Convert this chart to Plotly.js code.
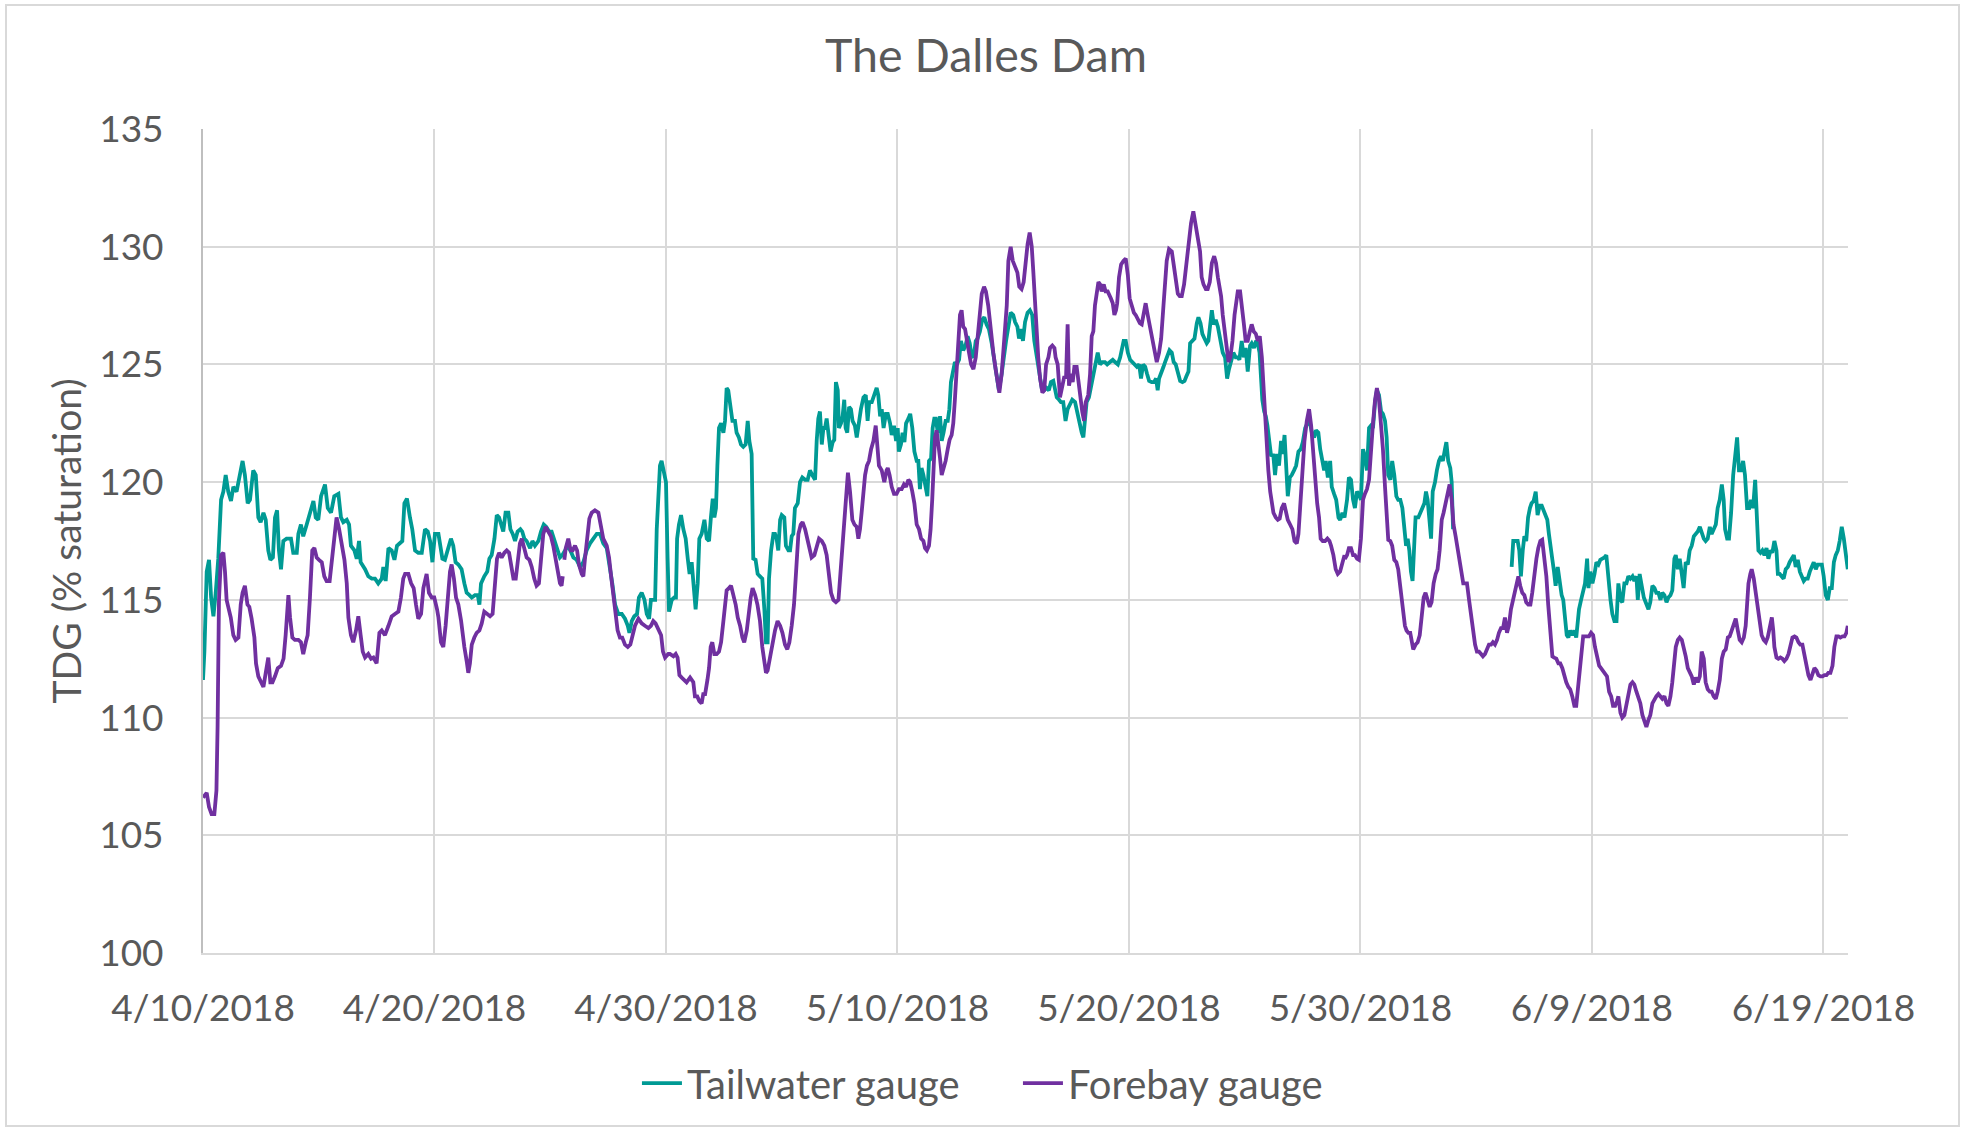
<!DOCTYPE html>
<html><head><meta charset="utf-8">
<script src="https://cdn.plot.ly/plotly-3.0.1.min.js"></script>
<style>
html,body{margin:0;padding:0;background:#fff}
#chart{width:1964px;height:1130px}
#frame{position:absolute;left:5px;top:4px;width:1951px;height:1119px;border:2px solid #d9d9d9;pointer-events:none}
</style>
</head><body><div id="chart"></div><div id="frame"></div>
<script>
const chartTitle = 'The Dalles Dam';
const yTitle = 'TDG (% saturation)';
const seriesNames = ['Tailwater gauge', 'Forebay gauge'];
const startDate = '2018-04-10';
const tickDays = [0, 10, 20, 30, 40, 50, 60, 70];
const tickLabels = ['4/10/2018', '4/20/2018', '4/30/2018', '5/10/2018', '5/20/2018', '5/30/2018', '6/9/2018', '6/19/2018'];
const axisEndDay = 71.06;
const yTicks = [100, 105, 110, 115, 120, 125, 130, 135];

// [days since 4/10/2018 00:00, TDG %]
const tailwater = [
[0.00,111.6],[0.06,112.8],[0.16,116.2],[0.26,116.7],[0.35,115.1],[0.45,114.3],[0.55,115.3],[0.66,116.75],[0.78,119.25],[0.88,119.6],[0.98,120.3],[1.09,119.6],[1.21,119.2],[1.31,119.8],[1.45,119.6],[1.60,120.3],[1.71,120.9],[1.81,120.3],[1.93,119.1],[2.03,119.25],[2.17,120.5],[2.28,120.3],[2.39,118.5],[2.49,118.3],[2.61,118.7],[2.71,118.4],[2.82,117.1],[2.91,116.7],[3.02,116.8],[3.11,118.5],[3.20,118.8],[3.28,117.1],[3.37,116.3],[3.47,117.5],[3.61,117.6],[3.80,117.6],[3.90,117.0],[4.05,117.0],[4.12,117.8],[4.23,118.2],[4.33,117.7],[4.48,118.2],[4.62,118.7],[4.77,119.2],[4.87,118.5],[4.98,118.4],[5.10,119.4],[5.27,119.9],[5.39,118.9],[5.53,118.7],[5.67,119.4],[5.85,119.5],[5.96,118.5],[6.06,118.3],[6.21,118.4],[6.31,118.2],[6.39,117.3],[6.54,117.1],[6.64,116.75],[6.74,117.5],[6.81,116.6],[6.88,116.5],[7.00,116.3],[7.14,116.0],[7.29,115.9],[7.43,115.9],[7.57,115.7],[7.72,115.9],[7.79,116.4],[7.89,115.8],[8.01,117.2],[8.15,117.1],[8.27,116.7],[8.38,117.3],[8.51,117.4],[8.61,117.5],[8.70,119.1],[8.81,119.3],[8.94,118.5],[9.04,118.0],[9.16,117.1],[9.30,117.0],[9.45,117.0],[9.59,118.0],[9.71,117.9],[9.81,117.5],[9.91,116.6],[10.02,117.8],[10.17,117.8],
[10.24,117.3],[10.34,116.75],[10.45,116.7],[10.57,117.1],[10.71,117.6],[10.81,117.3],[10.91,116.6],[11.03,116.5],[11.17,116.3],[11.29,115.7],[11.39,115.3],[11.51,115.2],[11.61,115.1],[11.75,115.2],[11.87,115.2],[11.94,114.8],[12.01,115.7],[12.15,116.0],[12.28,116.2],[12.37,116.75],[12.47,116.9],[12.59,117.6],[12.69,118.6],[12.79,118.5],[12.87,118.2],[12.97,117.9],[13.07,118.7],[13.19,118.7],[13.28,118.0],[13.38,117.8],[13.48,117.5],[13.59,117.9],[13.71,118.0],[13.79,117.9],[13.88,117.6],[13.98,117.5],[14.13,117.2],[14.23,117.5],[14.34,117.3],[14.49,117.5],[14.60,117.9],[14.72,118.2],[14.83,118.1],[14.95,117.9],[15.06,117.9],[15.21,117.5],[15.32,117.1],[15.42,116.8],[15.52,116.9],[15.64,117.1],[15.75,117.3],[15.87,117.1],[16.00,116.8],[16.14,116.7],[16.29,116.4],[16.43,116.6],[16.57,117.1],[16.72,117.4],[16.86,117.6],[17.01,117.8],[17.15,117.8],[17.29,117.4],[17.44,117.2],[17.58,116.4],[17.68,115.7],[17.80,114.8],[17.94,114.4],[18.09,114.4],[18.23,114.2],[18.35,113.9],[18.42,113.6],[18.52,114.1],[18.63,114.3],[18.75,114.4],[18.83,115.1],[18.95,115.3],[19.07,115.0],[19.17,114.4],[19.27,114.2],[19.35,115.0],[19.45,115.0],
[19.53,115.0],[19.60,118.0],[19.67,119.3],[19.74,120.7],[19.81,120.9],[19.91,120.5],[20.00,120.0],[20.07,116.75],[20.13,114.5],[20.25,115.0],[20.36,115.1],[20.43,115.1],[20.48,117.6],[20.56,118.2],[20.65,118.6],[20.75,118.0],[20.85,117.6],[20.94,116.75],[21.02,116.1],[21.11,116.6],[21.18,115.7],[21.28,114.6],[21.37,115.7],[21.44,117.6],[21.54,117.8],[21.66,118.4],[21.76,117.6],[21.86,117.5],[21.94,118.5],[22.02,119.3],[22.09,118.5],[22.16,118.9],[22.22,120.7],[22.29,122.3],[22.38,122.5],[22.48,122.1],[22.55,122.6],[22.62,124.0],[22.69,123.9],[22.77,123.2],[22.87,122.6],[22.98,122.6],[23.05,122.1],[23.15,121.9],[23.24,121.6],[23.34,121.5],[23.44,121.6],[23.53,122.6],[23.60,121.75],[23.70,121.2],[23.77,116.75],[23.87,116.7],[23.96,116.1],[24.06,116.0],[24.16,115.9],[24.25,114.6],[24.32,113.2],[24.39,113.2],[24.45,115.9],[24.54,117.1],[24.64,117.8],[24.71,117.8],[24.78,117.6],[24.85,117.1],[24.93,118.4],[25.00,118.6],[25.11,118.5],[25.18,117.3],[25.29,117.1],[25.36,117.1],[25.43,117.7],[25.50,117.8],[25.57,118.9],[25.69,119.1],[25.79,120.0],[25.89,120.2],[26.01,120.1],[26.12,120.1],[26.22,120.5],[26.32,120.3],[26.44,120.1],[26.51,121.75],[26.58,122.7],[26.65,123.0],[26.73,121.6],[26.80,122.3],[26.87,122.3],[26.94,122.7],[27.01,122.1],[27.11,121.3],[27.20,121.7],[27.27,121.8],[27.34,124.25],[27.42,123.9],[27.47,122.3],[27.56,122.5],[27.63,122.8],[27.70,123.5],[27.76,122.3],[27.83,122.1],[27.91,123.2],[27.99,123.1],[28.06,122.6],[28.16,122.4],[28.24,121.9],[28.34,122.6],[28.42,123.1],[28.53,123.6],[28.63,123.7],[28.71,122.6],[28.78,123.4],[28.89,123.4],[29.00,123.7],[29.10,124.0],[29.17,123.7],[29.25,122.8],[29.32,123.1],[29.40,122.3],[29.50,122.9],
[29.58,122.9],[29.68,122.5],[29.75,122.0],[29.85,122.4],[29.94,121.75],[30.01,122.3],[30.06,121.3],[30.15,121.6],[30.22,122.1],[30.30,121.7],[30.37,122.5],[30.47,122.7],[30.55,122.9],[30.64,122.3],[30.73,121.3],[30.83,120.9],[30.90,120.9],[30.97,119.7],[31.04,120.6],[31.12,120.3],[31.19,120.0],[31.29,119.4],[31.36,120.9],[31.45,121.0],[31.52,122.3],[31.59,122.7],[31.66,122.7],[31.74,122.1],[31.84,122.8],[31.91,121.75],[31.99,122.1],[32.08,122.6],[32.17,122.6],[32.24,123.1],[32.31,124.25],[32.38,124.6],[32.48,125.1],[32.56,125.0],[32.66,125.2],[32.74,126.0],[32.84,125.6],[32.94,125.8],[33.03,126.2],[33.12,125.9],[33.20,125.4],[33.29,125.3],[33.38,126.0],[33.46,126.1],[33.56,126.4],[33.66,126.9],[33.75,127.0],[33.85,126.7],[33.95,126.5],[34.07,125.9],[34.18,125.1],[34.28,124.6],[34.38,123.9],[34.50,124.6],[34.60,125.5],[34.69,126.0],[34.79,126.6],[34.89,127.2],[35.00,127.1],[35.08,126.8],[35.18,126.6],[35.25,126.1],[35.34,126.5],[35.42,126.0],[35.51,126.8],[35.62,127.2],[35.72,127.3],[35.82,127.1],[35.91,126.0],[36.01,125.3],[36.11,124.6],[36.23,124.0],[36.33,123.9],[36.44,124.0],[36.54,123.9],[36.63,124.25],[36.73,124.3],[36.80,124.0],[36.88,123.6],[36.98,123.5],[37.06,123.4],[37.16,123.4],[37.26,122.6],[37.35,123.1],[37.45,123.3],[37.55,123.5],[37.67,123.4],[37.77,122.9],[37.86,122.5],[37.96,122.1],[38.03,121.9],[38.10,122.6],[38.17,123.4],[38.27,123.6],[38.39,124.2],[38.49,124.8],[38.58,125.3],[38.65,125.5],[38.75,125.0],[38.85,125.1],[38.96,125.1],[39.06,125.0],[39.18,125.1],[39.30,125.2],[39.40,125.1],
[39.52,125.0],[39.62,125.3],[39.69,125.7],[39.77,126.0],[39.86,126.0],[39.95,125.5],[40.05,125.2],[40.15,125.1],[40.24,125.0],[40.34,124.9],[40.44,125.0],[40.52,124.4],[40.61,125.0],[40.70,124.9],[40.78,124.6],[40.87,124.3],[40.98,124.25],[41.08,124.25],[41.17,124.4],[41.24,123.9],[41.30,124.4],[41.39,124.7],[41.49,124.9],[41.56,125.1],[41.66,125.4],[41.75,125.6],[41.85,125.5],[41.93,125.1],[42.02,125.0],[42.11,124.6],[42.21,124.3],[42.31,124.25],[42.40,124.3],[42.48,124.5],[42.57,124.7],[42.64,125.9],[42.74,126.0],[42.83,126.1],[42.93,126.75],[43.00,127.0],[43.09,126.75],[43.17,126.3],[43.26,126.1],[43.36,125.9],[43.43,126.0],[43.50,126.75],[43.58,127.3],[43.66,126.7],[43.75,126.9],[43.84,126.6],[43.91,126.2],[43.98,125.7],[44.05,125.5],[44.15,125.3],[44.24,124.4],[44.32,124.8],[44.41,125.1],[44.51,125.5],[44.61,125.3],[44.70,125.3],[44.77,125.2],[44.87,126.0],[44.96,125.3],[45.04,125.7],[45.13,124.7],[45.23,125.8],[45.30,125.9],[45.40,125.7],[45.49,126.0],[45.56,125.9],[45.64,125.5],[45.69,124.6],[45.76,123.5],[45.84,123.0],[45.91,122.8],[45.98,122.4],[46.05,121.9],[46.14,121.1],[46.23,121.2],[46.31,120.3],[46.40,121.2],[46.48,120.7],[46.57,121.75],[46.64,121.2],[46.72,122.0],[46.79,120.5],[46.86,119.4],[46.95,120.2],[47.03,120.3],[47.13,120.5],[47.22,120.7],[47.32,121.3],[47.42,121.4],[47.51,121.7],[47.61,122.3],[47.71,122.5],[47.80,122.6],[47.90,122.1],[48.00,121.9],[48.08,122.2],[48.18,122.1],[48.26,121.4],[48.33,121.0],[48.43,120.5],[48.50,120.9],[48.59,120.2],[48.69,120.9],[48.76,119.8],[48.86,119.5],[48.95,119.25],[49.05,118.5],[49.12,118.4],[49.22,118.7],[49.31,118.5],
[49.42,119.25],[49.50,120.2],[49.59,120.1],[49.68,119.25],[49.76,118.9],[49.85,119.6],[49.93,119.5],[50.02,119.25],[50.11,121.4],[50.19,121.1],[50.28,120.5],[50.37,122.3],[50.45,122.4],[50.54,122.3],[50.63,123.4],[50.71,123.9],[50.80,123.7],[50.89,123.0],[50.97,122.9],[51.06,122.6],[51.13,121.9],[51.20,120.3],[51.29,120.1],[51.37,120.9],[51.46,120.3],[51.55,119.4],[51.63,119.25],[51.72,119.25],[51.81,118.9],[51.89,118.0],[51.97,117.3],[52.04,117.6],[52.11,117.1],[52.18,116.2],[52.25,115.8],[52.33,117.5],[52.38,118.5],[52.50,118.5],[52.58,118.7],[52.67,118.9],[52.76,119.1],[52.83,119.6],[52.90,119.25],[52.97,118.5],[53.05,117.6],[53.12,119.6],[53.22,120.0],[53.30,120.5],[53.39,120.9],[53.48,121.1],[53.56,120.9],[53.65,121.4],[53.71,121.7],[53.79,120.9],[53.88,120.6],[53.94,120.0],[54.00,118.0],[54.05,null],
[56.53,116.4],[56.60,117.5],[56.70,117.5],[56.79,117.5],[56.86,117.1],[56.93,116.0],[57.01,117.1],[57.08,117.7],[57.16,117.5],[57.24,118.5],[57.32,118.9],[57.39,119.1],[57.48,119.2],[57.57,119.6],[57.65,118.6],[57.74,119.0],[57.83,119.0],[57.93,118.7],[58.00,118.5],[58.07,118.4],[58.14,117.8],[58.21,117.1],[58.29,116.7],[58.36,116.2],[58.43,115.6],[58.52,116.4],[58.60,115.7],[58.69,115.2],[58.76,115.0],[58.83,114.25],[58.91,113.5],[58.98,113.4],[59.06,113.7],[59.15,113.5],[59.24,113.7],[59.32,113.4],
[59.36,113.9],[59.44,114.6],[59.53,115.0],[59.62,115.4],[59.70,115.7],[59.79,116.75],[59.85,115.5],[59.93,116.2],[60.02,115.7],[60.11,116.1],[60.19,116.6],[60.28,116.5],[60.36,116.7],[60.45,116.75],[60.54,116.8],[60.62,116.9],[60.71,115.7],[60.80,115.0],[60.88,114.4],[60.97,114.1],[61.06,114.1],[61.14,115.7],[61.23,115.0],[61.31,114.9],[61.40,115.7],[61.49,115.7],[61.57,116.0],[61.66,115.9],[61.75,116.0],[61.83,115.8],[61.92,116.0],[61.98,115.0],[62.06,116.1],[62.15,115.5],[62.24,115.1],[62.32,114.9],[62.44,114.6],[62.52,114.9],[62.61,115.6],[62.70,115.5],[62.78,115.3],[62.87,115.3],[62.96,115.0],[63.04,115.3],[63.13,115.2],[63.22,114.9],[63.30,115.1],[63.39,115.2],[63.47,115.4],[63.56,116.75],[63.62,116.9],[63.71,116.3],[63.79,116.75],[63.88,116.1],[63.96,115.5],[64.05,116.6],[64.14,116.5],[64.22,117.1],[64.31,117.3],[64.40,117.7],[64.48,117.8],[64.57,117.9],[64.66,118.1],[64.74,117.8],[64.83,117.6],[64.91,117.5],[65.00,117.6],[65.09,118.1],[65.17,117.8],[65.26,118.0],[65.35,118.2],[65.43,118.9],[65.52,119.25],[65.61,119.9],[65.69,119.25],[65.75,118.0],[65.84,117.6],[65.92,117.6],[66.01,118.7],[66.10,120.3],[66.18,121.0],[66.27,121.9],[66.35,120.5],[66.44,120.5],[66.53,120.9],[66.61,120.3],[66.70,118.9],[66.79,118.9],[66.87,119.25],[66.96,118.9],[67.05,120.1],[67.13,117.8],[67.19,117.1],[67.28,117.0],[67.36,117.1],[67.45,116.9],[67.54,117.2],[67.62,116.75],[67.71,117.1],[67.79,117.0],[67.88,117.5],[67.97,117.1],[68.03,116.1],[68.11,116.1],[68.20,116.0],[68.28,115.9],[68.37,116.3],[68.46,116.4],[68.54,116.6],[68.63,116.75],[68.72,116.9],[68.80,116.4],[68.89,116.7],[68.98,116.2],[69.06,116.0],[69.15,115.8],[69.23,115.9],[69.32,115.9],[69.41,116.2],[69.49,116.4],[69.58,116.6],[69.67,116.3],[69.75,116.5],[69.84,116.5],[69.93,116.5],[70.01,116.0],[70.10,115.2],[70.19,115.0],[70.27,115.5],[70.36,115.5],[70.45,116.6],[70.53,116.9],[70.62,117.1],[70.70,117.5],[70.79,118.1],[70.88,117.6],[70.96,117.1],[71.05,116.3]
];

const forebay = [
[0.00,106.6],[0.16,106.8],[0.26,106.2],[0.37,105.9],[0.49,105.9],[0.58,106.9],[0.63,109.6],[0.69,115.0],[0.78,116.9],[0.88,117.0],[0.95,116.2],[1.02,115.0],[1.09,114.7],[1.20,114.25],[1.31,113.5],[1.41,113.3],[1.53,113.4],[1.63,114.8],[1.71,115.3],[1.81,115.6],[1.92,114.8],[2.00,114.7],[2.10,114.2],[2.22,113.4],[2.29,112.3],[2.39,111.75],[2.51,111.5],[2.61,111.3],[2.71,111.9],[2.82,112.55],[2.91,111.5],[3.00,111.5],[3.11,111.75],[3.23,112.1],[3.37,112.2],[3.48,112.5],[3.57,113.5],[3.69,115.2],[3.76,114.25],[3.86,113.4],[3.97,113.3],[4.12,113.3],[4.23,113.2],[4.33,112.7],[4.44,113.2],[4.52,113.5],[4.62,115.1],[4.72,117.1],[4.81,117.2],[4.91,116.8],[5.01,116.7],[5.13,116.6],[5.24,116.0],[5.34,115.8],[5.47,115.8],[5.56,116.7],[5.67,117.6],[5.77,118.5],[5.88,118.0],[5.99,117.3],[6.11,116.7],[6.21,115.7],[6.28,114.25],[6.39,113.5],[6.49,113.2],[6.61,113.7],[6.71,114.3],[6.81,113.5],[6.90,112.8],[7.00,112.55],[7.14,112.7],[7.26,112.5],[7.36,112.55],[7.50,112.3],[7.62,113.6],[7.72,113.7],[7.86,113.5],[8.01,113.9],[8.15,114.3],[8.29,114.4],[8.44,114.5],[8.55,115.1],[8.65,115.9],[8.73,116.1],[8.87,116.1],[8.99,115.7],[9.10,115.5],[9.20,114.8],[9.30,114.2],[9.42,114.4],[9.52,115.5],[9.66,116.1],[9.76,115.3],[9.88,115.1],[9.99,115.1],[10.11,114.6],
[10.17,114.25],[10.28,113.2],[10.38,113.0],[10.48,113.9],[10.57,115.0],[10.67,116.2],[10.74,116.5],[10.84,115.9],[10.93,115.1],[11.03,114.8],[11.15,114.1],[11.22,113.4],[11.29,113.0],[11.39,112.4],[11.46,111.9],[11.53,112.3],[11.61,113.1],[11.72,113.4],[11.82,113.6],[11.94,113.7],[12.04,114.0],[12.15,114.5],[12.25,114.4],[12.40,114.3],[12.51,114.4],[12.61,115.7],[12.70,116.75],[12.79,117.0],[12.90,116.8],[13.02,117.0],[13.12,117.1],[13.22,117.0],[13.31,116.4],[13.41,115.9],[13.51,115.9],[13.59,116.75],[13.69,117.4],[13.77,117.6],[13.88,117.1],[13.98,116.8],[14.10,116.7],[14.20,116.4],[14.31,115.9],[14.41,115.6],[14.51,115.7],[14.60,116.75],[14.70,117.8],[14.80,118.1],[14.92,117.9],[15.03,117.7],[15.13,117.3],[15.23,116.8],[15.32,116.2],[15.42,115.7],[15.49,115.6],[15.54,116.0],[15.57,null],[15.61,116.7],[15.67,117.2],[15.78,117.6],[15.88,117.1],[15.97,117.1],[16.07,117.3],[16.16,117.1],[16.24,116.5],[16.36,116.1],[16.43,116.0],[16.50,116.75],[16.60,117.6],[16.69,118.45],[16.79,118.7],[16.93,118.8],[17.08,118.7],[17.19,118.2],[17.29,117.6],[17.44,117.3],[17.54,116.8],[17.63,116.0],[17.73,115.1],[17.83,114.3],[17.91,113.7],[18.01,113.4],[18.11,113.4],[18.23,113.1],[18.35,113.0],[18.46,113.1],[18.55,113.5],[18.66,113.9],[18.81,114.2],[18.95,114.0],[19.09,113.9],[19.24,113.8],[19.35,113.9],[19.45,114.1],[19.55,114.0],[19.67,113.7],[19.79,113.5],[19.87,112.8],[19.96,112.55],[20.10,112.7],
[20.17,112.7],[20.32,112.6],[20.42,112.7],[20.50,112.55],[20.58,111.8],[20.68,111.7],[20.79,111.6],[20.89,111.5],[21.04,111.7],[21.18,111.5],[21.25,110.9],[21.35,110.9],[21.44,110.7],[21.54,110.6],[21.61,111.0],[21.69,111.0],[21.79,111.6],[21.86,112.1],[21.93,113.0],[22.00,113.2],[22.09,112.7],[22.19,112.7],[22.29,112.8],[22.38,113.2],[22.48,114.1],[22.55,115.0],[22.62,115.4],[22.72,115.5],[22.81,115.6],[22.91,115.2],[23.01,114.8],[23.10,114.25],[23.20,113.9],[23.30,113.4],[23.38,113.2],[23.49,113.7],[23.56,114.4],[23.66,115.1],[23.74,115.5],[23.85,115.2],[23.95,114.8],[24.06,114.1],[24.16,113.0],[24.25,112.4],[24.32,111.9],[24.39,112.0],[24.49,112.5],[24.59,113.2],[24.71,113.7],[24.82,114.1],[24.93,113.9],[25.03,113.6],[25.14,113.1],[25.24,112.9],[25.33,113.2],[25.43,113.9],[25.53,114.8],[25.62,116.2],[25.72,117.8],[25.82,118.2],[25.90,118.3],[26.01,118.0],[26.11,117.5],[26.19,117.2],[26.29,116.8],[26.41,116.9],[26.51,117.2],[26.61,117.6],[26.73,117.5],[26.84,117.3],[26.94,116.9],[27.04,116.1],[27.13,115.3],[27.23,115.0],[27.34,114.9],[27.45,115.0],[27.52,115.9],[27.59,116.75],[27.66,117.6],[27.73,118.7],[27.81,119.9],[27.86,120.4],[27.95,119.6],[28.05,118.4],[28.14,118.2],[28.24,118.1],[28.31,117.6],[28.38,118.0],[28.45,118.7],[28.53,119.6],[28.60,120.3],[28.68,120.7],[28.77,120.9],[28.86,121.4],[28.96,121.75],[29.06,122.4],[29.13,121.4],[29.20,120.7],[29.32,120.5],[29.43,120.0],[29.53,120.5],
[29.58,120.6],[29.66,120.3],[29.75,119.8],[29.85,119.5],[29.96,119.5],[30.06,119.7],[30.18,119.7],[30.28,119.9],[30.37,119.8],[30.47,120.1],[30.55,120.0],[30.64,119.6],[30.73,119.1],[30.83,118.2],[30.93,118.0],[31.02,117.6],[31.12,117.5],[31.19,117.2],[31.27,117.1],[31.36,117.3],[31.43,118.0],[31.50,119.25],[31.56,120.7],[31.62,121.9],[31.69,122.2],[31.76,121.75],[31.84,121.0],[31.91,120.3],[31.99,120.6],[32.08,120.9],[32.17,121.4],[32.25,121.8],[32.34,122.0],[32.41,122.5],[32.48,123.5],[32.56,124.7],[32.63,125.9],[32.70,127.1],[32.77,127.3],[32.84,126.6],[32.92,126.5],[33.00,125.9],[33.09,125.5],[33.18,125.0],[33.28,124.8],[33.38,125.3],[33.46,126.2],[33.56,127.3],[33.64,128.0],[33.74,128.3],[33.82,128.1],[33.92,127.5],[34.02,126.4],[34.14,125.5],[34.24,124.8],[34.33,124.1],[34.40,123.8],[34.50,124.6],[34.60,126.0],[34.72,127.5],[34.79,129.4],[34.89,130.0],[34.98,129.4],[35.08,129.1],[35.18,128.9],[35.26,128.3],[35.36,128.2],[35.45,128.5],[35.54,129.4],[35.62,130.1],[35.71,130.6],[35.80,130.0],[35.87,128.9],[35.94,127.5],[36.01,126.4],[36.08,125.3],[36.16,124.4],[36.26,123.8],[36.34,123.9],[36.42,125.0],[36.52,125.3],[36.59,125.7],[36.69,125.8],[36.78,125.7],[36.83,125.3],[36.92,125.0],[37.02,123.6],[37.12,124.1],[37.21,124.5],[37.28,124.4],[37.35,126.7],[37.41,124.1],[37.50,124.6],[37.57,124.25],[37.64,124.9],[37.74,124.9],[37.81,124.25],[37.91,123.6],[37.98,123.0],[38.06,122.6],[38.13,123.4],[38.24,123.7],[38.32,124.6],[38.39,126.2],[38.46,126.4],[38.53,127.5],[38.60,128.0],[38.68,128.5],[38.75,128.4],[38.82,128.1],[38.91,128.4],[38.99,128.1],[39.08,128.1],[39.15,127.9],[39.22,127.8],[39.30,127.6],[39.37,127.1],[39.44,127.3],
[39.49,127.6],[39.57,128.7],[39.66,129.25],[39.76,129.4],[39.86,129.5],[39.95,128.8],[40.03,127.8],[40.12,127.5],[40.21,127.2],[40.29,127.1],[40.38,126.9],[40.47,126.75],[40.55,126.7],[40.64,127.3],[40.72,127.6],[40.81,127.1],[40.90,126.6],[40.98,126.2],[41.07,125.7],[41.13,125.3],[41.20,125.1],[41.30,125.5],[41.39,126.1],[41.49,127.5],[41.56,128.5],[41.63,129.4],[41.73,129.9],[41.85,129.8],[41.93,129.25],[42.02,128.5],[42.11,128.0],[42.19,127.9],[42.28,127.9],[42.38,128.4],[42.47,129.25],[42.57,130.1],[42.68,131.0],[42.78,131.5],[42.88,130.9],[42.97,130.3],[43.07,129.8],[43.14,128.7],[43.22,128.4],[43.32,128.2],[43.40,128.2],[43.49,128.5],[43.58,129.3],[43.68,129.6],[43.76,129.3],[43.84,128.7],[43.91,128.2],[43.98,127.9],[44.05,127.1],[44.15,126.2],[44.22,125.6],[44.30,125.1],[44.38,125.3],[44.47,126.0],[44.56,127.1],[44.63,127.7],[44.70,128.1],[44.80,128.1],[44.87,127.6],[44.96,126.75],[45.04,126.0],[45.13,126.0],[45.22,126.4],[45.30,126.7],[45.39,126.4],[45.48,126.3],[45.56,126.0],[45.65,126.2],[45.74,125.3],[45.81,123.9],[45.88,123.0],[45.95,121.9],[46.02,120.5],[46.10,119.6],[46.17,119.25],[46.24,118.7],[46.34,118.5],[46.43,118.4],[46.51,118.45],[46.60,118.9],[46.70,119.1],[46.79,118.7],[46.86,118.4],[46.96,118.2],[47.06,118.0],[47.15,117.5],[47.25,117.4],[47.32,117.8],[47.41,119.25],[47.49,120.7],[47.58,121.75],[47.68,122.6],[47.78,123.1],[47.87,122.4],[47.95,121.4],[48.04,120.1],[48.13,119.1],[48.21,118.5],[48.28,117.6],[48.37,117.5],[48.47,117.5],[48.57,117.6],[48.66,117.5],[48.73,117.3],[48.83,116.9],[48.93,116.3],[49.02,116.1],[49.12,116.2],[49.22,116.6],[49.31,116.9],
[49.33,116.75],[49.42,116.9],[49.50,117.2],[49.59,117.2],[49.68,116.9],[49.76,116.9],[49.85,116.75],[49.93,116.7],[50.02,117.6],[50.11,119.25],[50.19,119.5],[50.28,119.7],[50.37,120.1],[50.45,121.4],[50.54,122.5],[50.63,123.5],[50.71,124.0],[50.80,123.5],[50.89,122.6],[50.97,121.4],[51.06,119.8],[51.13,118.4],[51.20,117.55],[51.29,117.5],[51.37,117.3],[51.46,116.7],[51.55,116.6],[51.63,116.3],[51.71,115.6],[51.78,115.0],[51.85,114.4],[51.92,113.9],[51.99,113.7],[52.07,113.6],[52.15,113.6],[52.21,113.3],[52.28,112.9],[52.38,113.1],[52.47,113.2],[52.56,113.5],[52.64,114.25],[52.73,115.1],[52.81,115.3],[52.90,115.0],[52.99,114.7],[53.07,114.9],[53.16,115.7],[53.25,116.1],[53.33,116.3],[53.42,117.1],[53.51,118.4],[53.59,118.7],[53.68,119.1],[53.77,119.6],[53.85,119.9],[53.94,119.25],[54.02,118.2],[54.11,117.7],[54.20,117.1],[54.28,116.75],[54.37,116.2],[54.44,115.7],[54.51,115.7],[54.60,115.7],[54.69,115.0],[54.77,114.4],[54.86,113.7],[54.95,113.1],[55.03,112.8],[55.12,112.8],[55.21,112.7],[55.29,112.6],[55.38,112.7],[55.46,112.9],[55.55,113.1],[55.64,113.1],[55.72,113.2],[55.81,113.1],[55.90,113.3],[55.98,113.6],[56.07,113.8],[56.16,113.8],[56.24,114.25],[56.33,113.6],[56.41,113.9],[56.50,114.6],[56.59,115.0],[56.67,115.3],[56.76,115.7],[56.82,116.0],[56.90,115.6],[56.99,115.3],[57.08,115.2],[57.16,114.9],[57.25,114.8],[57.34,114.8],[57.42,115.3],[57.51,116.2],[57.60,116.75],[57.68,117.2],[57.77,117.5],[57.85,117.55],[57.94,116.9],[58.03,116.0],[58.11,114.8],[58.20,113.5],[58.29,112.6],[58.37,112.55],[58.46,112.5],[58.55,112.3],[58.63,112.3],[58.72,112.1],[58.81,111.7],[58.89,111.5],[58.98,111.3],[59.06,111.2],[59.15,110.9],[59.24,110.5],[59.32,110.5],
[59.36,110.9],[59.44,111.75],[59.53,112.6],[59.62,113.45],[59.70,113.45],[59.79,113.45],[59.87,113.45],[59.96,113.6],[60.05,113.5],[60.13,113.0],[60.22,112.6],[60.31,112.2],[60.39,112.1],[60.48,112.0],[60.57,111.9],[60.65,111.75],[60.74,111.1],[60.83,110.9],[60.91,110.5],[61.00,110.5],[61.08,110.7],[61.14,110.9],[61.23,110.2],[61.31,110.0],[61.40,110.1],[61.49,110.6],[61.57,111.0],[61.66,111.4],[61.75,111.5],[61.83,111.4],[61.92,111.1],[62.01,110.8],[62.09,110.6],[62.18,110.1],[62.27,109.8],[62.35,109.6],[62.44,109.9],[62.52,110.1],[62.61,110.6],[62.70,110.8],[62.78,110.9],[62.87,111.0],[62.96,110.9],[63.04,110.8],[63.13,110.9],[63.22,110.6],[63.30,110.5],[63.39,110.9],[63.47,111.5],[63.53,112.3],[63.62,113.0],[63.71,113.3],[63.79,113.4],[63.88,113.3],[63.96,113.0],[64.05,112.6],[64.14,112.1],[64.22,111.9],[64.31,111.75],[64.40,111.4],[64.48,111.7],[64.57,111.5],[64.66,111.75],[64.74,112.8],[64.83,112.5],[64.91,111.5],[65.00,111.2],[65.09,111.1],[65.17,111.1],[65.26,110.9],[65.35,110.8],[65.43,111.1],[65.52,111.6],[65.61,112.5],[65.69,112.8],[65.78,112.9],[65.87,113.4],[65.95,113.45],[66.04,113.7],[66.12,113.9],[66.21,114.2],[66.30,113.7],[66.38,113.3],[66.47,113.2],[66.56,113.4],[66.64,113.9],[66.70,115.0],[66.76,115.7],[66.84,116.1],[66.90,116.3],[66.99,115.9],[67.07,115.3],[67.16,114.9],[67.25,114.1],[67.33,113.5],[67.42,113.3],[67.51,113.2],[67.59,113.4],[67.68,113.9],[67.77,114.25],[67.83,113.7],[67.88,113.0],[67.97,112.55],[68.05,112.5],[68.14,112.55],[68.23,112.5],[68.31,112.4],[68.40,112.5],[68.49,112.7],[68.57,113.0],[68.66,113.4],[68.75,113.45],[68.83,113.4],[68.92,113.2],[69.00,113.1],[69.09,113.1],[69.18,112.7],[69.26,112.3],[69.35,111.8],[69.44,111.6],[69.52,111.9],[69.61,112.1],[69.70,112.0],[69.78,111.8],[69.87,111.75],[69.96,111.75],[70.04,111.8],[70.13,111.8],[70.21,111.9],[70.30,111.9],[70.39,112.2],[70.47,113.0],[70.56,113.45],[70.65,113.45],[70.73,113.4],[70.82,113.45],[70.91,113.45],[70.99,113.6],[71.05,113.9]
];

const seriesColors = ['#009a94', '#7030a0'];
const textColor = '#595959';
const gridColor = '#d9d9d9';
const fontFamily = 'Lato, "Noto Sans", sans-serif';

const t0 = Date.parse(startDate + 'T00:00:00Z');
function dayToDate(d) {
  return new Date(t0 + Math.round(d * 86400000)).toISOString().slice(0, 19).replace('T', ' ');
}

const traces = [tailwater, forebay].map((arr, i) => ({
  type: 'scatter',
  mode: 'lines',
  name: seriesNames[i],
  x: arr.map(p => dayToDate(p[0])),
  y: arr.map(p => p[1]),
  connectgaps: false,
  line: {color: seriesColors[i], width: 3.8}
}));

const layout = {
  width: 1964,
  height: 1130,
  margin: {l: 203, r: 116, t: 129, b: 177},
  paper_bgcolor: '#ffffff',
  plot_bgcolor: '#ffffff',
  font: {family: fontFamily, color: textColor, size: 37},
  title: {
    text: chartTitle,
    font: {family: fontFamily, size: 46.5, color: textColor},
    x: 0.502, xref: 'container', xanchor: 'center',
    y: 0.951, yref: 'container', yanchor: 'middle'
  },
  xaxis: {
    type: 'date',
    range: [dayToDate(0), dayToDate(axisEndDay)],
    tickmode: 'array',
    tickvals: tickDays.map(dayToDate),
    ticktext: tickLabels,
    showgrid: true,
    gridcolor: gridColor,
    gridwidth: 2,
    showline: true,
    linecolor: gridColor,
    linewidth: 2,
    zeroline: false,
    ticks: '',
    ticklabelstandoff: 22,
    tickfont: {family: fontFamily, size: 37, color: textColor}
  },
  yaxis: {
    range: [100, 135],
    tickmode: 'array',
    tickvals: yTicks,
    showgrid: true,
    gridcolor: gridColor,
    gridwidth: 2,
    showline: true,
    linecolor: '#bfbfbf',
    linewidth: 2,
    zeroline: false,
    ticks: '',
    ticklabelstandoff: 30,
    tickfont: {family: fontFamily, size: 37, color: textColor}
  },
  annotations: [{
    text: yTitle,
    xref: 'paper', yref: 'paper',
    x: -0.083, y: 0.5,
    xanchor: 'center', yanchor: 'middle',
    textangle: -90,
    showarrow: false,
    font: {family: fontFamily, size: 39, color: textColor}
  }],
  showlegend: true,
  legend: {
    orientation: 'h',
    x: 0.2638, xanchor: 'left',
    y: -0.158, yanchor: 'middle',
    font: {family: fontFamily, size: 40, color: textColor},
    entrywidth: 326,
    entrywidthmode: 'pixels',
    itemwidth: 40,
    tracegroupgap: 0
  }
};

Plotly.newPlot('chart', traces, layout, {displayModeBar: false, staticPlot: true});
</script>
</body></html>
